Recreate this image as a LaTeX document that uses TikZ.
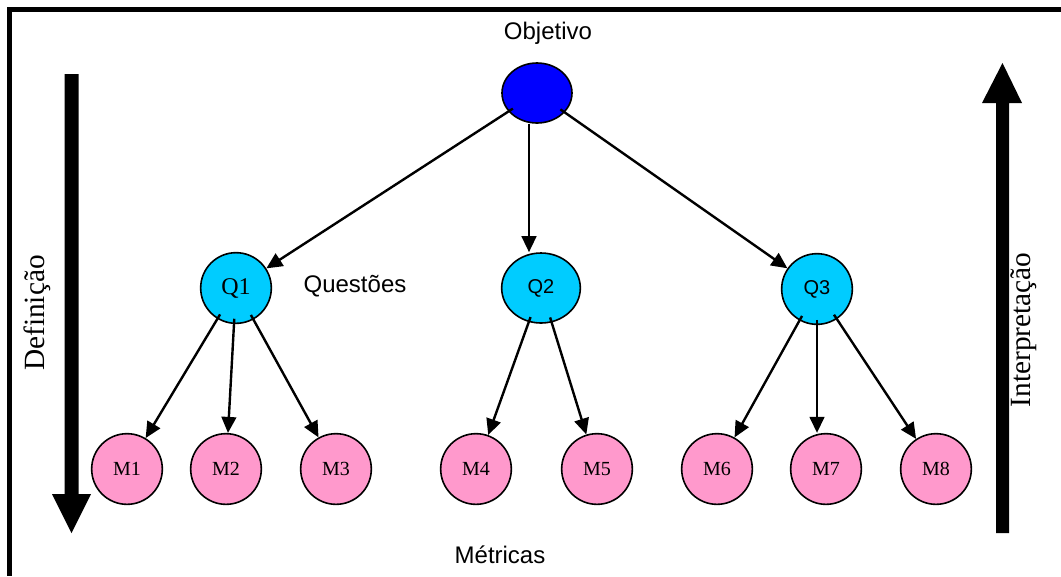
\documentclass[tikz,border=0pt]{standalone}
\usepackage{fontspec}
\setmainfont{Liberation Serif}
\setsansfont{Liberation Sans}
\usetikzlibrary{arrows.meta,shapes.geometric}

\definecolor{goalblue}{RGB}{0,0,255}
\definecolor{qcyan}{RGB}{0,204,255}
\definecolor{mpink}{RGB}{255,153,204}

\tikzset{
  arr/.style={line width=1.8pt, shorten <=-4pt, -{Triangle[length=12pt,width=11pt]}},
  qnode/.style={circle, draw=black, line width=1.2pt, fill=qcyan, minimum size=53pt, inner sep=0pt},
  mnode/.style={circle, draw=black, line width=1.2pt, fill=mpink, minimum size=53pt, inner sep=0pt,
                font=\fontsize{15pt}{17pt}\selectfont},
  sanslabel/.style={font=\sffamily\fontsize{18pt}{20pt}\selectfont, inner sep=0pt},
  sidelabel/.style={font=\fontsize{22pt}{24pt}\selectfont, inner sep=0pt, rotate=90},
}

\begin{document}
\begin{tikzpicture}[x=0.75pt, y=-0.75pt]
  \useasboundingbox (0,0) rectangle (1061,576);

  % frame (top and left edges)
  \fill[black] (7,7) rectangle (1061,12);
  \fill[black] (7,7) rectangle (12,576);

  % goal
  \node[ellipse, draw=black, line width=1.2pt, fill=goalblue, minimum width=52.5pt, minimum height=45pt, inner sep=0pt] (o) at (537,93) {};
  \node[sanslabel, anchor=base] (lobj) at (548,39) {Objetivo};

  % questions
  \node[qnode, font=\fontsize{18pt}{20pt}\selectfont] (q1) at (236,288) {Q1};
  \node[qnode, ellipse, minimum width=59pt, minimum height=52.5pt, font=\sffamily\fontsize{15pt}{17pt}\selectfont] (q2) at (541,288) {Q2};
  \node[qnode, font=\sffamily\fontsize{15pt}{17pt}\selectfont] (q3) at (817,289) {Q3};
  \node[sanslabel, anchor=base] (lq) at (355,292) {Questões};

  % metrics
  \node[mnode] (m1) at (127,469) {M1};
  \node[mnode] (m2) at (226,469) {M2};
  \node[mnode] (m3) at (336,469) {M3};
  \node[mnode] (m4) at (476,469) {M4};
  \node[mnode] (m5) at (597,469) {M5};
  \node[mnode] (m6) at (717,469) {M6};
  \node[mnode] (m7) at (826,469) {M7};
  \node[mnode] (m8) at (936,469) {M8};
  \node[sanslabel, anchor=base] (lm) at (500,563) {Métricas};

  % goal to questions
  \draw[arr] (o) -- (q1);
  \draw[arr, shorten <=0pt] ([xshift=-6]o.south) -- ([xshift=-6]o.south |- q2.north);
  \draw[arr] (o) -- (q3);

  % questions to metrics
  \draw[arr] (q1) -- (m1);
  \draw[arr] (q1) -- (m2);
  \draw[arr] (q1) -- (m3);
  \draw[arr] (q2) -- (m4);
  \draw[arr] (q2) -- (m5);
  \draw[arr] (q3) -- (m6);
  \draw[arr] (q3.south) -- (q3.south |- m7.north);
  \draw[arr] (q3) -- (m8);

  % definition arrow (downwards)
  \fill[black] (64.5,74) -- (78.5,74) -- (78.5,494) -- (91,494) -- (71.5,533)
               -- (52,494) -- (64.5,494) -- cycle;
  \node[sidelabel] (ldef) at (37,313) {Definição};

  % interpretation arrow (upwards)
  \fill[black] (996,533) -- (1009,533) -- (1009,103) -- (1022,103) -- (1002.5,63)
               -- (982,103) -- (996,103) -- cycle;
  \node[sidelabel] (lint) at (1024,330) {Interpretação};
\end{tikzpicture}
\end{document}
